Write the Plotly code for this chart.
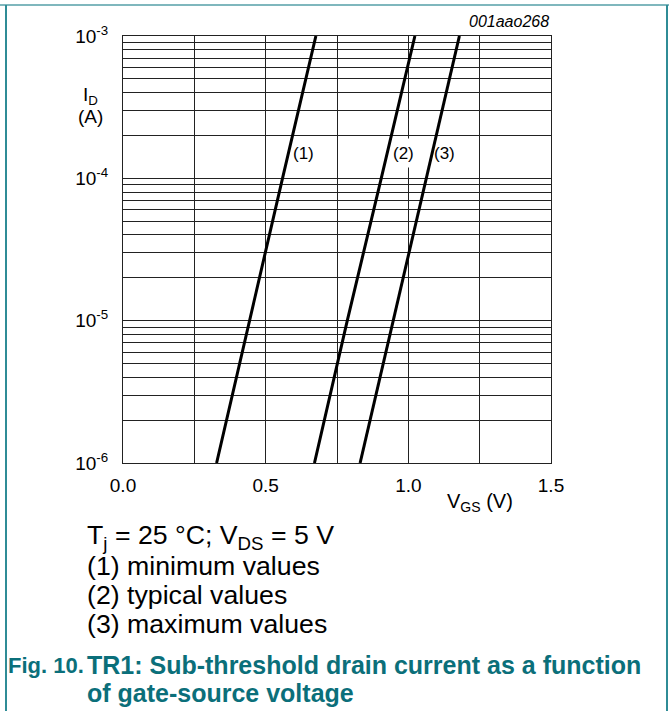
import plotly.graph_objects as go

# ---- data ----
id_values = [1e-6, 1e-5, 1e-4, 1e-3]
vgs_min = [0.328, 0.443, 0.559, 0.676]
vgs_typ = [0.671, 0.786, 0.905, 1.023]
vgs_max = [0.831, 0.947, 1.063, 1.179]
curve_labels = ["(1)", "(2)", "(3)"]
label_vgs = [0.634, 0.982, 1.127]
label_id = 1.5e-4

x_tickvals = [0, 0.25, 0.5, 0.75, 1.0, 1.25, 1.5]
x_ticktext = ["0.0", "", "0.5", "", "1.0", "", "1.5"]

y_tickvals = []
y_ticktext = []
for e in range(-6, -2):
    for m in range(1, 10):
        if e == -3 and m > 1:
            break
        y_tickvals.append(m * 10.0 ** e)
        y_ticktext.append(f"10<sup>{e}</sup>" if m == 1 else "")

FONT = "Arial, Liberation Sans, sans-serif"
W, H = 669, 711
L, R, T, B = 123, 551, 36, 463

def px(x):
    return (x - L) / (R - L)

def py(y):
    return (B - y) / (B - T)

fig = go.Figure()
for v in (vgs_min, vgs_typ, vgs_max):
    fig.add_trace(go.Scatter(x=v, y=id_values, mode="lines",
                             line=dict(color="black", width=3),
                             showlegend=False, hoverinfo="skip"))

annotations = []
for i, (lab, xv) in enumerate(zip(curve_labels, label_vgs)):
    annotations.append(dict(x=xv, y=-3.824, xref="x", yref="y", text=lab,
                            showarrow=False,
                            bgcolor="white" if i == 1 else "rgba(0,0,0,0)",
                            font=dict(size=17, color="black", family=FONT),
                            borderpad=0, height=28 if i == 1 else None))

annotations += [
    dict(x=px(551), y=py(22), xref="paper", yref="paper", text="<i>001aao268</i>",
         showarrow=False, xanchor="right", yanchor="middle",
         font=dict(size=16, color="black", family=FONT)),
    dict(x=px(90), y=py(96), xref="paper", yref="paper", text="I<sub>D</sub>",
         showarrow=False, xanchor="center", yanchor="middle",
         font=dict(size=19, color="black", family=FONT)),
    dict(x=px(90), y=py(116), xref="paper", yref="paper", text="(A)",
         showarrow=False, xanchor="center", yanchor="middle",
         font=dict(size=19, color="black", family=FONT)),
    dict(x=px(480), y=py(502), xref="paper", yref="paper", text="V<sub>GS</sub> (V)",
         showarrow=False, xanchor="center", yanchor="middle",
         font=dict(size=20, color="black", family=FONT)),
]

caption_lines = ["T<sub>j</sub> = 25 °C; V<sub>DS</sub> = 5 V", "(1) minimum values",
                 "(2) typical values", "(3) maximum values"]
for i, t in enumerate(caption_lines):
    annotations.append(dict(x=px(85), y=py(537 + 29 * i), xref="paper", yref="paper",
                            text=t, showarrow=False, xanchor="left", yanchor="middle",
                            font=dict(size=26.7, color="black", family=FONT)))

TEAL = "#0b6f7a"
annotations.append(dict(x=px(6), y=py(665), xref="paper", yref="paper",
                        text="<b>Fig. 10.</b>", showarrow=False, xanchor="left", yanchor="middle",
                        font=dict(size=22, color=TEAL, family=FONT)))
annotations.append(dict(x=px(85), y=py(665), xref="paper", yref="paper",
                        text="<b>TR1: Sub-threshold drain current as a function</b>",
                        showarrow=False, xanchor="left", yanchor="middle",
                        font=dict(size=25, color=TEAL, family=FONT)))
annotations.append(dict(x=px(85), y=py(693), xref="paper", yref="paper",
                        text="<b>of gate-source voltage</b>",
                        showarrow=False, xanchor="left", yanchor="middle",
                        font=dict(size=25, color=TEAL, family=FONT)))

shapes = [
    dict(type="line", xref="paper", yref="paper", x0=px(0), x1=px(669), y0=py(5), y1=py(5),
         line=dict(color="#7fb7bd", width=2)),
    dict(type="line", xref="paper", yref="paper", x0=px(6), x1=px(6), y0=py(5), y1=py(711),
         line=dict(color="#2f8c96", width=2)),
    dict(type="line", xref="paper", yref="paper", x0=px(667), x1=px(667), y0=py(5), y1=py(711),
         line=dict(color="#2f8c96", width=2)),
]

fig.update_layout(
    width=W, height=H,
    margin=dict(l=L, r=W - R, t=T, b=H - B, pad=0),
    paper_bgcolor="white", plot_bgcolor="white",
    annotations=annotations, shapes=shapes,
    font=dict(family=FONT, color="black"),
    xaxis=dict(range=[0, 1.5], tickvals=x_tickvals, ticktext=x_ticktext,
               showgrid=True, gridcolor="#222", gridwidth=1, zeroline=False,
               showline=True, linecolor="#222", linewidth=1, mirror=True,
               ticks="", ticklabelstandoff=5, tickfont=dict(size=19, family=FONT)),
    yaxis=dict(type="log", range=[-6, -3], tickvals=y_tickvals, ticktext=y_ticktext,
               showgrid=True, gridcolor="#222", gridwidth=1, zeroline=False,
               showline=True, linecolor="#222", linewidth=1, mirror=True,
               ticks="", ticklabelstandoff=10, tickfont=dict(size=19, family=FONT)),
)

fig.write_html("out.html", config={"displayModeBar": False},
               post_script="document.body.style.margin='0';document.body.style.overflow='hidden';")
